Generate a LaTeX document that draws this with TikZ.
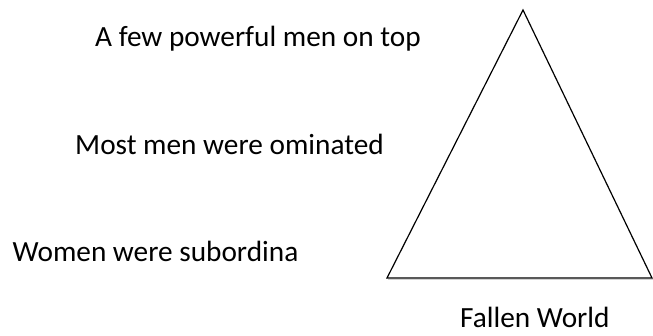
\documentclass[tikz,border=0pt]{standalone}
\usepackage{fontspec}
\setmainfont{Carlito}

\tikzset{
    label text/.style={anchor=base west, inner sep=0pt,
        font=\fontsize{29.3}{34}\selectfont},
}

\begin{document}
\begin{tikzpicture}[x=1pt, y=1pt]

    \useasboundingbox (0,0) rectangle (653,336);

    % ============================================================
    % HIERARCHY LABELS
    % ============================================================
    \node[label text] (top)    at (95,289)   {A few powerful men on top};
    \node[label text] (middle) at (75,181)   {Most men were ominated};
    \node[label text] (bottom) at (12.5,74)  {Women were subordina};

    % ============================================================
    % PYRAMID
    % ============================================================
    \coordinate (apex)  at (523,326);
    \coordinate (left)  at (387,58);
    \coordinate (right) at (652,58);
    \draw[gray!35, line width=1.2pt]
        ([shift={(1.2,-1.6)}]left) -- ([shift={(1.2,-1.6)}]right);
    \draw[line width=1.2pt, line join=miter, fill=white]
        (apex) -- (left) -- (right) -- cycle;

    % ============================================================
    % CAPTION
    % ============================================================
    \node[label text] (caption) at (460,8) {Fallen World};

\end{tikzpicture}
\end{document}
